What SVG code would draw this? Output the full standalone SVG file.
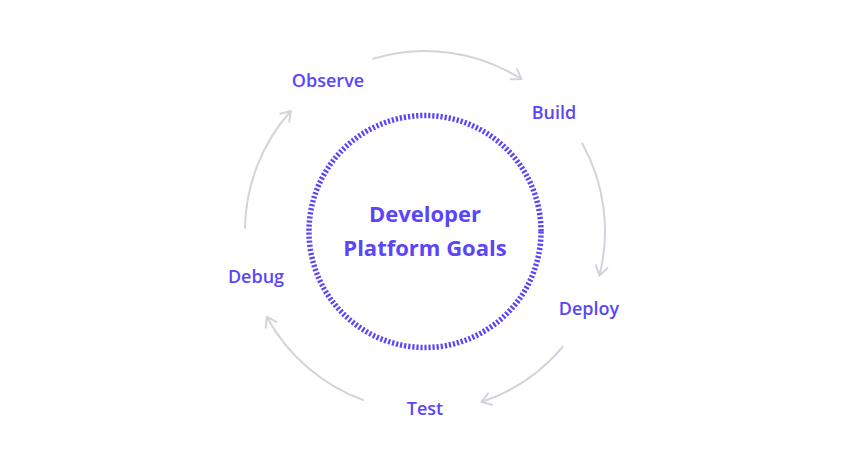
<svg xmlns="http://www.w3.org/2000/svg" width="850" height="464" viewBox="0 0 850 464">
<defs>
<style>
.lbl{font-family:"Open Sans","Noto Sans",sans-serif;font-weight:600;font-size:18px;fill:#5a46f8;text-anchor:middle}
.ctr{font-family:"Open Sans","Noto Sans",sans-serif;font-weight:700;font-size:22px;fill:#5a46f8;text-anchor:middle}
.arc{fill:none;stroke:#d3d3db;stroke-width:2;stroke-linecap:round}
</style>
<marker id="chev" markerUnits="userSpaceOnUse" markerWidth="20" markerHeight="20" refX="0" refY="0" viewBox="-12 -10 14 20" orient="auto">
<path d="M-9,-6 L0,0 L-9,6" fill="none" stroke="#d3d3db" stroke-width="2" stroke-linecap="round" stroke-linejoin="round"/>
</marker>
</defs>
<rect width="850" height="464" fill="#ffffff"/>
<g id="center">
<circle cx="425" cy="231.5" r="116" fill="none" stroke="#5a46f8" stroke-width="5.5" stroke-dasharray="2.2 1.9"/>
<text class="ctr" x="425" y="222">Developer</text>
<text class="ctr" x="425" y="256">Platform Goals</text>
</g>
<g id="connectors">
<path class="arc" d="M373.3,58.6 A180,180 0 0 1 521.4,79" marker-end="url(#chev)"/>
<path class="arc" d="M582.3,143.5 A180,180 0 0 1 599.4,275.5" marker-end="url(#chev)"/>
<path class="arc" d="M562.9,346.7 A180,180 0 0 1 481.5,401.9" marker-end="url(#chev)"/>
<path class="arc" d="M363.1,400 A180,180 0 0 1 266.8,316.9" marker-end="url(#chev)"/>
<path class="arc" d="M245,227.9 A180,180 0 0 1 290.8,111" marker-end="url(#chev)"/>
</g>
<g id="observe"><text class="lbl" x="328" y="87">Observe</text></g>
<g id="build"><text class="lbl" x="554" y="119">Build</text></g>
<g id="deploy"><text class="lbl" x="589" y="315">Deploy</text></g>
<g id="test"><text class="lbl" x="425" y="415">Test</text></g>
<g id="debug"><text class="lbl" x="256" y="283">Debug</text></g>
</svg>
